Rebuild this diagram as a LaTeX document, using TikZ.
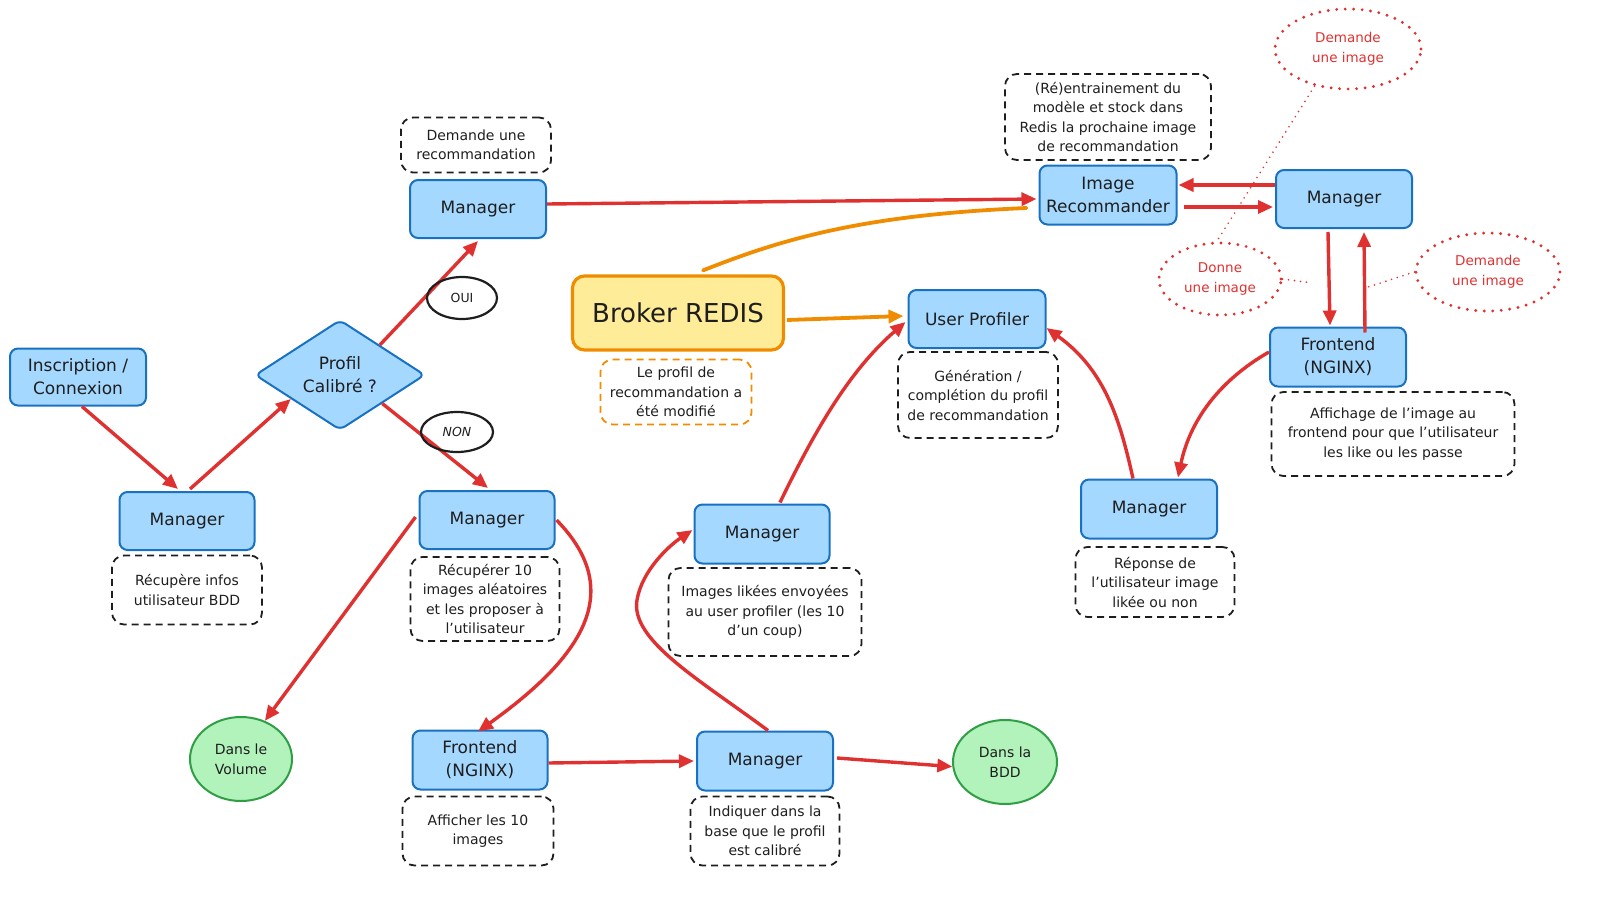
\documentclass[tikz,border=0pt]{standalone}
\usepackage{fontspec}
\setmainfont{DejaVu Sans}
\usetikzlibrary{shapes.geometric,arrows.meta,calc}
\definecolor{lblue}{HTML}{A5D8FF}
\definecolor{bblue}{HTML}{1971C2}
\definecolor{ared}{HTML}{E03131}
\definecolor{aorange}{HTML}{F08C00}
\definecolor{lyellow}{HTML}{FFEC99}
\definecolor{lgreen}{HTML}{B2F2BB}
\definecolor{dgreen}{HTML}{2F9E44}
\definecolor{ink}{HTML}{1E1E1E}
\begin{document}
\begin{tikzpicture}[x=1pt,y=-1pt,
  box/.style={draw=bblue, fill=lblue, line width=2pt, rounded corners=8pt, align=center,
    font=\fontsize{17}{23}\selectfont, inner sep=0pt, text=ink},
  note/.style={draw=ink, dash pattern=on 7pt off 5pt, line width=1.8pt, rounded corners=12pt,
    align=center, font=\fontsize{14}{19.5}\selectfont, inner sep=0pt, text=ink},
  onote/.style={note, draw=aorange},
  circ/.style={ellipse, draw=dgreen, fill=lgreen, line width=2pt, align=center,
    font=\fontsize{14}{20}\selectfont, inner sep=0pt, text=ink},
  dotell/.style={ellipse, draw=ared, line width=3.2pt, dash pattern=on 0pt off 8.5pt, line cap=round,
    align=center, font=\fontsize{13.5}{20}\selectfont, text=ared, inner sep=0pt},
  dotline/.style={draw=ared, line width=1.8pt, dash pattern=on 0pt off 6pt, line cap=round},
  lab/.style={ellipse, draw=ink, line width=2.2pt, font=\fontsize{12.5}{15}\selectfont, inner sep=0pt, text=ink},
  arr/.style={draw=ared, line width=3.4pt, -{Triangle[length=15pt,width=13pt]}},
  oarr/.style={draw=aorange, line width=3.8pt, -{Triangle[length=15pt,width=13pt]}},
]
\useasboundingbox (0,0) rectangle (1609,899);

% nodes
\node[box, minimum width=136pt, minimum height=57pt] (ins) at (78,377) {Inscription /\\Connexion};
\node[box, minimum width=135pt, minimum height=58pt] (m1) at (187,521) {Manager};
\node[note, minimum width=150pt, minimum height=69pt] (n1) at (187,590) {Récupère infos\\utilisateur BDD};
\node[diamond, draw=bblue, fill=lblue, line width=2pt, rounded corners=6pt, minimum width=170pt,
  minimum height=110pt, inner sep=0pt, align=center, font=\fontsize{17}{23}\selectfont, text=ink] (dia) at (340,375) {Profil\\Calibré ?};
\node[box, minimum width=136pt, minimum height=58pt] (mtop) at (478,209) {Manager};
\node[note, minimum width=150pt, minimum height=55pt] (ntop) at (476,145) {Demande une\\recommandation};
\node[box, minimum width=135pt, minimum height=58pt] (mmid) at (487,520) {Manager};
\node[note, minimum width=149pt, minimum height=84pt] (nmid) at (485,599) {Récupérer 10\\images aléatoires\\et les proposer à\\l’utilisateur};
\node[circ, minimum width=102pt, minimum height=84pt] (vol) at (241,759) {Dans le\\Volume};
\node[box, minimum width=135pt, minimum height=59pt] (fbot) at (480,760) {Frontend\\(NGINX)};
\node[note, minimum width=151pt, minimum height=69pt] (nfbot) at (478,831) {Afficher les 10\\images};
\node[box, minimum width=136pt, minimum height=59pt] (mbot) at (765,761) {Manager};
\node[note, minimum width=149pt, minimum height=69pt] (nmbot) at (765,831) {Indiquer dans la\\base que le profil\\est calibré};
\node[circ, minimum width=104pt, minimum height=84pt] (bdd) at (1005,762) {Dans la\\BDD};
\node[box, minimum width=135pt, minimum height=59pt] (mlik) at (762,534) {Manager};
\node[note, minimum width=193pt, minimum height=88pt] (nlik) at (765,612) {Images likées envoyées\\au user profiler (les 10\\d’un coup)};
\node[draw=aorange, fill=lyellow, line width=3.2pt, rounded corners=12pt, minimum width=211pt, minimum height=74pt,
  inner sep=0pt, font=\fontsize{26}{32}\selectfont, text=ink] (brk) at (678,313) {Broker REDIS};
\node[onote, minimum width=151pt, minimum height=65pt] (nbrk) at (676,392) {Le profil de\\recommandation a\\été modifié};
\node[box, minimum width=137pt, minimum height=58pt] (uprof) at (977,319) {User Profiler};
\node[note, minimum width=160pt, minimum height=86pt] (nup) at (978,395) {Génération /\\complétion du profil\\de recommandation};
\node[box, minimum width=137pt, minimum height=59pt] (imgrec) at (1108,195) {Image\\Recommander};
\node[note, minimum width=206pt, minimum height=86pt] (nimg) at (1108,117) {(Ré)entrainement du\\modèle et stock dans\\Redis la prochaine image\\de recommandation};
\node[box, minimum width=136pt, minimum height=58pt] (mr) at (1344,199) {Manager};
\node[box, minimum width=136pt, minimum height=59pt] (fr) at (1338,357) {Frontend\\(NGINX)};
\node[note, minimum width=243pt, minimum height=84pt] (nfr) at (1393,434) {Affichage de l’image au\\frontend pour que l’utilisateur\\les like ou les passe};
\node[box, minimum width=136pt, minimum height=59pt] (mrl) at (1149,509) {Manager};
\node[note, minimum width=159pt, minimum height=70pt] (nmrl) at (1155,582) {Réponse de\\l’utilisateur image\\likée ou non};

\node[dotell, minimum width=146pt, minimum height=80pt] (e1) at (1348,49) {Demande\\une image};
\node[dotell, minimum width=122pt, minimum height=72pt] (e2) at (1220,279) {Donne\\une image};
\node[dotell, minimum width=144pt, minimum height=78pt] (e3) at (1488,272) {Demande\\une image};

\coordinate (d2end) at (1312,283);
\coordinate (d3end) at (1368,287);
\draw[dotline] (e1.228) -- (e2.95);
\draw[dotline] (e2.east) -- (d2end);
\draw[dotline] (e3.west) -- (d3end);

% connectors
\draw[arr] ([xshift=4pt]ins.south) -- ([xshift=-9pt,yshift=2pt]m1.north);
\draw[arr] ([xshift=3pt,yshift=2pt]m1.north) -- (dia.206);
\draw[arr] (dia.37) -- ([yshift=-2pt]mtop.south);
\draw[arr] (dia.-34) -- ([xshift=1pt,yshift=2pt]mmid.north);
\draw[arr] ([yshift=5pt]mtop.east) -- ([xshift=-2pt,yshift=-4pt]imgrec.west);
\draw[draw=aorange, line width=3.8pt, line cap=round] ([xshift=25pt,yshift=4pt]brk.north) .. controls (780,240) and (860,215) .. ([xshift=-12pt,yshift=-13pt]imgrec.west);
\draw[oarr] ([xshift=2pt,yshift=-7pt]brk.east) -- ([xshift=-4pt,yshift=3pt]uprof.west);
\draw[arr] ([xshift=-3pt,yshift=3pt]mmid.west) -- (vol.58);
\draw[arr] ([xshift=1pt]mmid.east) .. controls (625,590) and (585,655) .. ([xshift=-2pt,yshift=-2pt]fbot.north);
\draw[arr] ([yshift=-3pt]fbot.east) -- ([xshift=-2pt]mbot.west);
\draw[arr] ([xshift=3pt,yshift=3pt]mbot.east) -- (bdd.185);
\draw[arr] ([xshift=3pt]mbot.north) .. controls (700,680) and (630,640) .. (637,600) .. controls (642,570) and (670,545) .. ([xshift=-1pt,yshift=4pt]mlik.west);
\draw[arr] ([xshift=18pt,yshift=1pt]mlik.north) .. controls (815,430) and (850,370) .. ([xshift=-2pt,yshift=-3pt]uprof.west);
\draw[arr] ([xshift=-16pt]mrl.north) .. controls (1120,420) and (1105,370) .. ([xshift=0pt,yshift=-9pt]uprof.east);
\draw[arr] ([yshift=5pt]fr.west) .. controls (1220,380) and (1190,420) .. ([xshift=29pt,yshift=1pt]mrl.north);
\draw[arr] ([yshift=14pt]mr.west) -- ([xshift=1pt,yshift=10pt]imgrec.east);
\draw[arr] ([xshift=6pt,yshift=-12pt]imgrec.east) -- ([xshift=-2pt,yshift=-8pt]mr.west);
\draw[arr] ([xshift=-16pt,yshift=-3pt]mr.south) -- ([xshift=-8pt,yshift=1pt]fr.north);
\draw[arr] ([xshift=27pt,yshift=-6pt]fr.north) -- ([xshift=20pt,yshift=-3pt]mr.south);

\node[lab, minimum width=70pt, minimum height=42pt] (oui) at (462,298) {OUI};
\node[lab, minimum width=72pt, minimum height=40pt] (non) at (457,432) {\itshape NON};
\end{tikzpicture}
\end{document}
